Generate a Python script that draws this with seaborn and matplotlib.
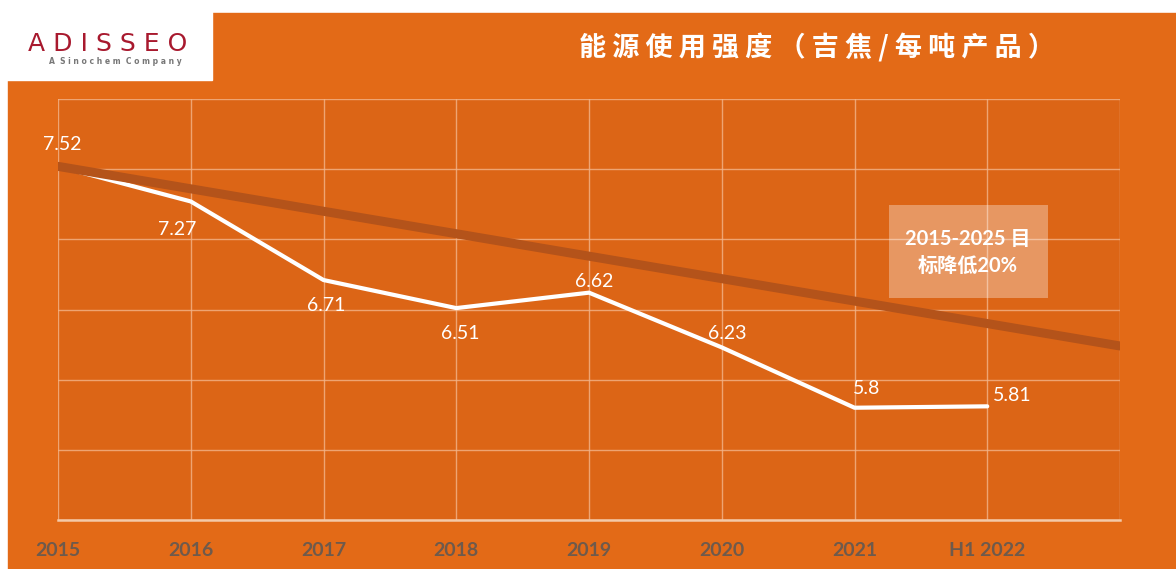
import numpy as np
import pandas as pd
import matplotlib.pyplot as plt
import seaborn as sns
from matplotlib.patches import Rectangle

# dati
anni = ['2015', '2016', '2017', '2018', '2019', '2020', '2021', 'H1 2022']
intensita = [7.52, 7.27, 6.71, 6.51, 6.62, 6.23, 5.80, 5.81]
etichette = ['7.52', '7.27', '6.71', '6.51', '6.62', '6.23', '5.8', '5.81']
obiettivo_x = [0, 8]
obiettivo_y = [7.52, 6.24]

titolo = '能源使用强度（吉焦/每吨产品）'
nota = '2015-2025 目\n标降低20%'

# scostamento delle etichette (punti)
offset = [(3, 16), (-10, -20), (2, -18), (3, -18), (4, 8), (4, 10), (9, 14), (18, 8)]

sns.set_style('white')
plt.rcParams['font.family'] = ['Lato', 'Noto Sans CJK SC', 'DejaVu Sans']

arancio = '#E36A17'
area = '#DC6516'

fig = plt.figure(figsize=(11.76, 5.69), dpi=100)
fig.patch.set_facecolor('white')
fig.patches.append(Rectangle((8 / 1176, 0), 1 - 8 / 1176, 1 - 13 / 569,
                             transform=fig.transFigure, color=arancio, zorder=-2))
# logo
fig.patches.append(Rectangle((0, 1 - 80 / 569), 212 / 1176, 80 / 569,
                             transform=fig.transFigure, color='white', zorder=-1))
fig.text(108 / 1176, 1 - 44 / 569, ' '.join('ADISSEO'), color='#A8192E', fontsize=18,
         family='DejaVu Sans', ha='center', va='center', zorder=2)
fig.text(115 / 1176, 1 - 62 / 569, 'A  S i n o c h e m  C o m p a n y', color='#777777',
         fontsize=5.5, family='DejaVu Sans', weight='bold', ha='center', va='center', zorder=2)

fig.text(817 / 1176, 1 - 48 / 569, ' '.join(titolo), color='white', fontsize=19.5,
         weight='bold', family=['Noto Sans CJK SC', 'DejaVu Sans'], ha='center', va='center')

ax = fig.add_axes([58 / 1176, 49 / 569, 1062 / 1176, 421 / 569])
ax.set_facecolor(area)

df = pd.DataFrame({'x': np.arange(len(anni)), 'valore': intensita})
sns.lineplot(data=df, x='x', y='valore', ax=ax, color='white', linewidth=3, zorder=3)
sns.lineplot(x=obiettivo_x, y=obiettivo_y, ax=ax, color='#B4531A', linewidth=6.5, zorder=4)

for i, (v, t) in enumerate(zip(intensita, etichette)):
    ax.annotate(t, (i, v), xytext=offset[i], textcoords='offset points', color='white',
                fontsize=14, ha='center', va='center', zorder=5)

ax.set_xlim(0, 8)
ax.set_ylim(5, 8)
ax.set_xticks(range(9))
ax.set_xticklabels(anni + [''], color='#6E5A4C', fontsize=14, weight='bold')
ax.set_yticks(np.arange(5, 8.01, 0.5))
ax.set_yticklabels([])
ax.tick_params(axis='x', length=0, pad=16)
ax.tick_params(axis='y', length=0)
ax.grid(True, color='#F3B58A', linewidth=1, alpha=0.8)
ax.set_xlabel('')
ax.set_ylabel('')
for s in ['top', 'left', 'right']:
    ax.spines[s].set_visible(False)
ax.spines['bottom'].set_color('#F4C9A8')
ax.spines['bottom'].set_linewidth(1.8)

ax.add_patch(Rectangle((0.7825, 0.527), 0.1495, 0.221, transform=ax.transAxes,
                       color='white', alpha=0.33, linewidth=0, zorder=6))
ax.text(0.857, 0.636, nota, transform=ax.transAxes, color='white', fontsize=14.5,
        weight='bold', ha='center', va='center', linespacing=1.45, zorder=7)

fig.savefig('out.png', dpi=100, facecolor=fig.get_facecolor())
